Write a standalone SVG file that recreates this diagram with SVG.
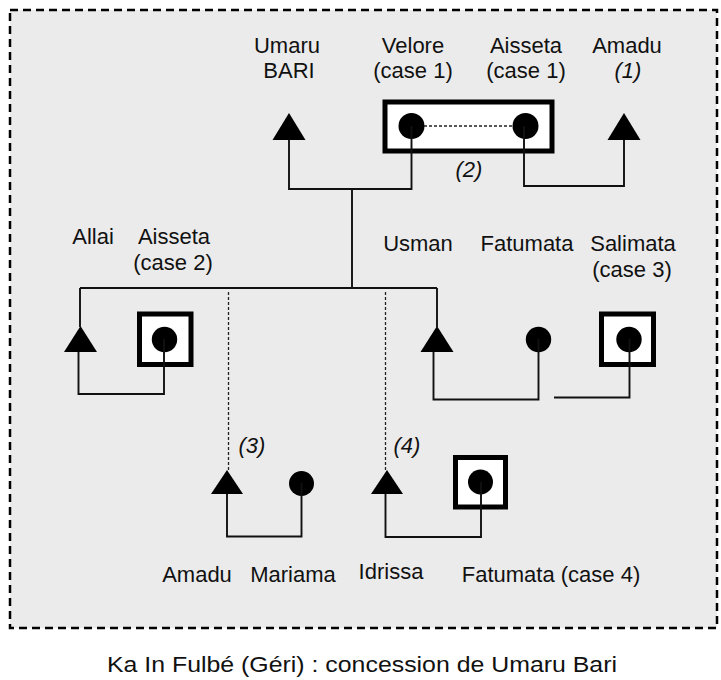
<svg xmlns="http://www.w3.org/2000/svg" width="721" height="680" viewBox="0 0 721 680">
<style>
text{font-family:"Liberation Sans",Arial,sans-serif;font-size:22px;fill:#111;text-anchor:middle}
.it{font-style:italic}
.ln{fill:none;stroke:#111;stroke-width:1.9}
.dl{fill:none;stroke:#222;stroke-width:1.3;stroke-dasharray:3 2}
.tri{fill:#000}
.dot{fill:#000}
.box{fill:#fff;stroke:#000;stroke-width:5}
</style>
<rect width="721" height="680" fill="#fff"/>
<rect x="10" y="10" width="707" height="618" fill="#ebebeb" stroke="#000" stroke-width="2.5" stroke-dasharray="8 5"/>

<g id="umaru"><polygon class="tri" points="289,113 272.5,140 305.5,140"/><text x="287" y="53">Umaru</text><text x="289" y="78">BARI</text></g>
<g id="couple-case1"><rect class="box" x="385" y="102" width="167" height="49"/>
<circle class="dot" cx="411.5" cy="126" r="13"/><circle class="dot" cx="525.5" cy="126" r="13"/></g>
<g id="velore"><text x="413" y="53">Velore</text><text x="413" y="78">(case 1)</text></g>
<g id="aisseta1"><text x="526" y="53">Aisseta</text><text x="526" y="78">(case 1)</text></g>
<g id="amadu1"><polygon class="tri" points="624,113 607.5,140 640.5,140"/><text x="627" y="53">Amadu</text><text class="it" x="628" y="78">(1)</text></g>
<g id="label2"><text class="it" x="469" y="177">(2)</text></g>

<g id="allai"><polygon class="tri" points="80.5,326 64,352 97,352"/><text x="93" y="244">Allai</text></g>
<g id="aisseta2"><rect class="box" x="139.5" y="314" width="51.5" height="50.5"/><circle class="dot" cx="164.5" cy="339.5" r="12.7"/><text x="174" y="244">Aisseta</text><text x="173" y="270">(case 2)</text></g>
<g id="usman"><polygon class="tri" points="437,326 420.5,352 453.5,352"/><text x="418" y="251">Usman</text></g>
<g id="fatumata"><circle class="dot" cx="538.5" cy="339.5" r="12.7"/><text x="527" y="251">Fatumata</text></g>
<g id="salimata"><rect class="box" x="601.5" y="314" width="52" height="50.5"/><circle class="dot" cx="629" cy="339.5" r="12.7"/><text x="633" y="251">Salimata</text><text x="632" y="277">(case 3)</text></g>

<g id="label3"><text class="it" x="252" y="453">(3)</text></g>
<g id="label4"><text class="it" x="407" y="453">(4)</text></g>
<g id="amadu2"><polygon class="tri" points="227,470 211,494 243,494"/><text x="197" y="582">Amadu</text></g>
<g id="mariama"><circle class="dot" cx="301.5" cy="483.5" r="12.5"/><text x="293" y="582">Mariama</text></g>
<g id="idrissa"><polygon class="tri" points="387,470 371,494 403,494"/><text x="391" y="579">Idrissa</text></g>
<g id="fatumata4"><rect class="box" x="455.5" y="457.5" width="50" height="49.5"/><circle class="dot" cx="480.5" cy="482" r="12.5"/><text x="551" y="582">Fatumata (case 4)</text></g>

<g id="connectors">
<polyline class="ln" points="289,140 289,189 411.5,189 411.5,126"/>
<line class="ln" x1="352" y1="189" x2="352" y2="288"/>
<polyline class="ln" points="524,126 524,186 624,186 624,140"/>
<line class="dl" x1="424" y1="126" x2="513" y2="126" stroke-width="1.6"/>
<line class="ln" x1="80" y1="288" x2="437" y2="288"/>
<line class="ln" x1="80" y1="288" x2="80" y2="327"/>
<line class="ln" x1="437" y1="288" x2="437" y2="327"/>
<polyline class="ln" points="78.5,352 78.5,394 164,394 164,339"/>
<polyline class="ln" points="433.5,352 433.5,399.5 538.5,399.5 538.5,339"/>
<polyline class="ln" points="629.5,339 629.5,397.5 554,397.5"/>
<line class="dl" x1="228.5" y1="292" x2="228.5" y2="471"/>
<line class="dl" x1="385.5" y1="292" x2="385.5" y2="471"/>
<polyline class="ln" points="227,494 227,536.5 301.5,536.5 301.5,483"/>
<polyline class="ln" points="385.5,494 385.5,537 481,537 481,482"/>
</g>

<text x="362" y="672" font-size="23" textLength="510" lengthAdjust="spacingAndGlyphs">Ka In Fulbé (Géri) : concession de Umaru Bari</text>
</svg>
